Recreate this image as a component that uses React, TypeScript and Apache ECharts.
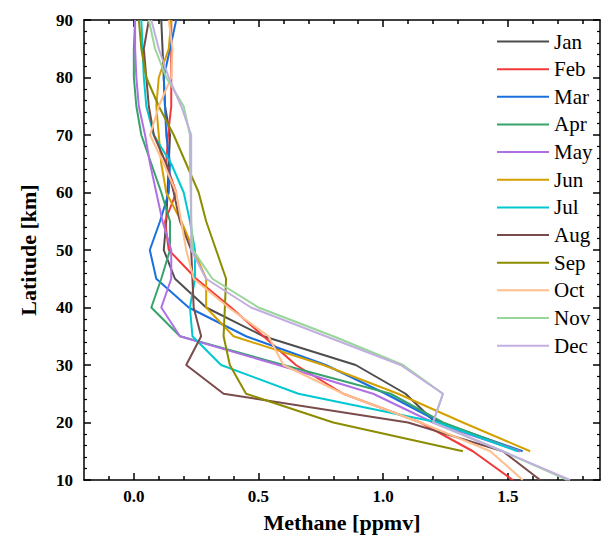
import React, { useEffect, useRef } from "react";
import * as echarts from "echarts";

const months = ["Jan", "Feb", "Mar", "Apr", "May", "Jun", "Jul", "Aug", "Sep", "Oct", "Nov", "Dec"];
const colors = ["#4d4d4d", "#f23a3a", "#1a6fdf", "#37a36b", "#b06fe3", "#d4a000", "#00c8d0", "#7a4b4b", "#8c8c00", "#ffbf8c", "#99d699", "#c2aee0"];
const altitudes = [90, 85, 80, 75, 70, 65, 60, 55, 50, 45, 40, 35, 30, 25, 20, 15, 10];

const jan = [0.11, 0.115, 0.12, 0.125, 0.145, 0.14, 0.135, 0.13, 0.12, 0.165, 0.29, 0.52, 0.89, 1.09, 1.21, 1.55];
const feb = [0.15, 0.15, 0.15, 0.15, 0.137, 0.13, 0.17, 0.125, 0.14, 0.25, 0.39, 0.52, 0.65, 0.84, 1.15, 1.36, 1.52];
const mar = [0.17, 0.145, 0.12, 0.125, 0.13, 0.145, 0.14, 0.105, 0.064, 0.09, 0.22, 0.45, 0.77, 1.01, 1.23, 1.56];
const apr = [0.005, 0.0, 0.0, 0.01, 0.03, 0.07, 0.11, 0.145, 0.145, 0.11, 0.07, 0.185, 0.6, 1.03, 1.24, 1.55];
const may = [0.005, 0.005, 0.01, 0.02, 0.045, 0.065, 0.09, 0.115, 0.15, 0.15, 0.11, 0.185, 0.58, 0.96, 1.2, 1.55];
const jun = [0.15, 0.14, 0.1, 0.09, 0.1, 0.11, 0.13, 0.19, 0.24, 0.29, 0.29, 0.4, 0.76, 1.06, 1.32, 1.59];
const jul = [0.03, 0.035, 0.04, 0.05, 0.08, 0.15, 0.2, 0.225, 0.245, 0.245, 0.225, 0.235, 0.35, 0.66, 1.22, 1.54];
const aug = [0.06, 0.04, 0.05, 0.06, 0.08, 0.13, 0.16, 0.185, 0.23, 0.235, 0.24, 0.27, 0.21, 0.36, 1.1, 1.48, 1.63];
const sep = [0.02, 0.03, 0.05, 0.1, 0.16, 0.21, 0.26, 0.29, 0.33, 0.37, 0.365, 0.36, 0.385, 0.45, 0.8, 1.32];
const oct = [0.14, 0.155, 0.15, 0.1, 0.065, 0.12, 0.17, 0.19, 0.21, 0.24, 0.38, 0.54, 0.6, 0.84, 1.15, 1.43, 1.56];
const nov = [0.06, 0.085, 0.13, 0.2, 0.225, 0.225, 0.228, 0.23, 0.237, 0.315, 0.5, 0.8, 1.08, 1.24, 1.2, 1.48, 1.74];
const dec = [0.07, 0.1, 0.14, 0.19, 0.23, 0.23, 0.23, 0.23, 0.23, 0.29, 0.47, 0.77, 1.07, 1.24, 1.2, 1.48, 1.75];

const monthValues = [jan, feb, mar, apr, may, jun, jul, aug, sep, oct, nov, dec];

const xMajorTicks = [0, 0.5, 1.0, 1.5];
const xMinorTicks = [-0.1, 0.1, 0.2, 0.3, 0.4, 0.6, 0.7, 0.8, 0.9, 1.1, 1.2, 1.3, 1.4, 1.6, 1.7, 1.8];

const FONT = "'Liberation Serif', 'Times New Roman', serif";

export default function App() {
  const ref = useRef<HTMLDivElement>(null);
  useEffect(() => {
    if (!ref.current) return;
    const chart = echarts.init(ref.current, null, { renderer: "svg" });
    const xMin = -0.2;
    const xMax = 1.87;
    const lineStyle = { color: "#000", width: 1.5 };
    const baseX = { type: "value", min: xMin, max: xMax, splitLine: { show: false } };
    const option = {
      animation: false,
      backgroundColor: "#fff",
      grid: { left: 84, right: 2, top: 20, bottom: 60, containLabel: false },
      legend: {
        orient: "vertical",
        left: 497,
        top: 31,
        padding: 0,
        itemWidth: 52,
        itemHeight: 20,
        itemGap: 6.65,
        icon: "path://M0,9 L52,9 L52,11 L0,11 Z",
        textStyle: { fontFamily: FONT, fontSize: 21, color: "#000" },
        data: months.map((m, i) => ({ name: m, itemStyle: { color: colors[i] } })),
      },
      xAxis: [
        {
          ...baseX,
          position: "bottom",
          name: "Methane [ppmv]",
          nameLocation: "middle",
          nameGap: 31,
          nameTextStyle: { fontFamily: FONT, fontSize: 22, fontWeight: "bold", color: "#000", verticalAlign: "top" },
          axisLine: { show: true, onZero: false, lineStyle },
          axisTick: { show: true, inside: true, length: 7, customValues: xMajorTicks, lineStyle },
          axisLabel: {
            customValues: xMajorTicks,
            formatter: (v: number) => v.toFixed(1),
            fontFamily: FONT,
            fontSize: 17,
            fontWeight: "bold",
            color: "#000",
            margin: 8,
          },
        },
        {
          ...baseX,
          position: "bottom",
          axisLine: { show: false, onZero: false },
          axisTick: { show: true, inside: true, length: 4, customValues: xMinorTicks, lineStyle },
          axisLabel: { show: false },
        },
        {
          ...baseX,
          position: "top",
          axisLine: { show: true, onZero: false, lineStyle },
          axisTick: { show: true, inside: true, length: 7, customValues: xMajorTicks, lineStyle },
          axisLabel: { show: false },
        },
        {
          ...baseX,
          position: "top",
          axisLine: { show: false, onZero: false },
          axisTick: { show: true, inside: true, length: 4, customValues: xMinorTicks, lineStyle },
          axisLabel: { show: false },
        },
      ],
      yAxis: [
        {
          type: "value",
          position: "left",
          min: 10,
          max: 90,
          interval: 10,
          splitLine: { show: false },
          name: "Latitude [km]",
          nameLocation: "middle",
          nameGap: 45,
          nameTextStyle: { fontFamily: FONT, fontSize: 22, fontWeight: "bold", color: "#000" },
          axisLine: { show: true, onZero: false, lineStyle },
          axisTick: { show: true, inside: true, length: 7, lineStyle },
          minorTick: { show: true, splitNumber: 5, length: 3, lineStyle: { color: "#000", width: 1.2 } },
          axisLabel: { fontFamily: FONT, fontSize: 17, fontWeight: "bold", color: "#000", margin: 11 },
        },
        {
          type: "value",
          position: "right",
          min: 10,
          max: 90,
          interval: 10,
          splitLine: { show: false },
          axisLine: { show: true, onZero: false, lineStyle },
          axisTick: { show: true, inside: true, length: 7, lineStyle },
          minorTick: { show: true, splitNumber: 5, length: 3, lineStyle: { color: "#000", width: 1.2 } },
          axisLabel: { show: false },
        },
      ],
      series: months.map((m, i) => ({
        name: m,
        type: "line",
        xAxisIndex: 0,
        yAxisIndex: 0,
        symbol: "none",
        showSymbol: false,
        color: colors[i],
        lineStyle: { color: colors[i], width: 2 },
        data: monthValues[i].map((v, k) => [v, altitudes[k]]),
      })),
    };
    chart.setOption(option as any);
    return () => chart.dispose();
  }, []);
  return <div ref={ref} style={{ width: 602, height: 540, position: "absolute", left: 0, top: 0 }} />;
}
